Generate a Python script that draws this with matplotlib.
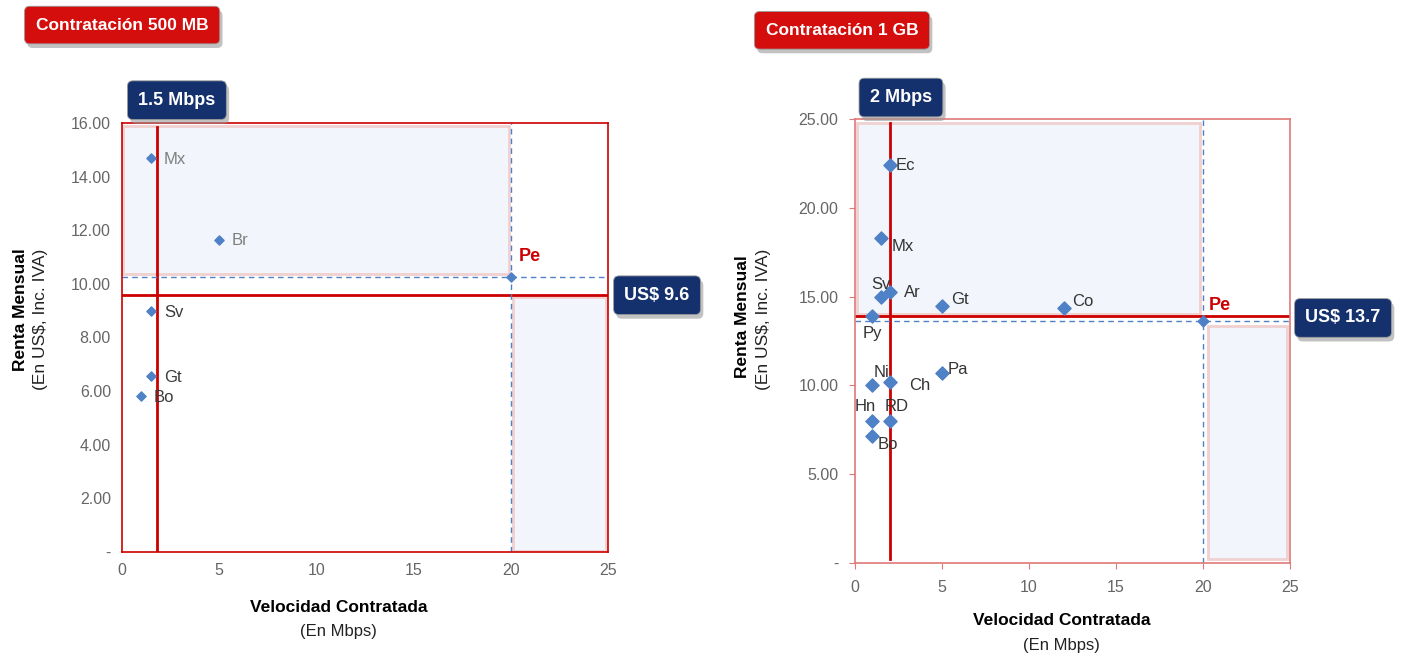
import numpy as np
import matplotlib.pyplot as plt
import matplotlib.patheffects as pe
from matplotlib.patches import Rectangle
from matplotlib.ticker import FuncFormatter

plt.rcParams['font.family'] = ['Liberation Sans', 'DejaVu Sans']

# --- data: plan 500 MB ---
paises_500 = ['Mx', 'Br', 'Sv', 'Gt', 'Bo']
vel_500 = [1.5, 5, 1.5, 1.5, 1]
renta_500 = [14.7, 11.65, 9.0, 6.55, 5.8]
pe_500 = (20, 10.26)
ref_vel_500 = 1.8
ref_renta_500 = 9.6

# --- data: plan 1 GB ---
paises_1gb = ['Ec', 'Mx', 'Sv', 'Ar', 'Gt', 'Co', 'Py', 'Pa', 'Ni', 'Ch', 'Hn', 'RD', 'Bo']
vel_1gb = [2, 1.5, 1.5, 2, 5, 12, 1, 5, 1, 2, 1, 2, 1]
renta_1gb = [22.4, 18.3, 15.0, 15.25, 14.45, 14.35, 13.9, 10.7, 10.0, 10.2, 8.0, 8.0, 7.15]
pe_1gb = (20, 13.63)
ref_vel_1gb = 2.0
ref_renta_1gb = 13.9

NAVY = '#14316e'
RED = '#cc0000'
BLUE = '#4f81c7'
SHADE = '#f2f5fb'

fig = plt.figure(figsize=(14.04, 6.59), dpi=100)
ax1 = fig.add_axes([0.0869, 0.1624, 0.3462, 0.651])
ax2 = fig.add_axes([0.609, 0.1457, 0.3098, 0.6737])


def fmt_y(v, pos):
    return '-' if abs(v) < 1e-9 else f'{v:.2f}'


def base_axes(ax, ymax, ystep, frame_col, ticks_out):
    ax.set_xlim(0, 25)
    ax.set_ylim(0, ymax)
    ax.set_xticks(np.arange(0, 26, 5))
    ax.set_yticks(np.arange(0, ymax + 0.01, ystep))
    ax.yaxis.set_major_formatter(FuncFormatter(fmt_y))
    for s in ax.spines.values():
        s.set_color(frame_col)
        s.set_linewidth(1.2)
    ax.tick_params(colors='#666666', labelsize=11.5, length=4 if ticks_out else 0,
                   color=frame_col, pad=8)


def shaded(ax, x0, y0, x1, y1):
    ax.add_patch(Rectangle((x0, y0), x1 - x0, y1 - y0, facecolor=SHADE,
                           edgecolor='#f0d0d0', linewidth=2, zorder=0))


# ---------------- left chart ----------------
base_axes(ax1, 16, 2, RED, False)
shaded(ax1, 0.05, pe_500[1] + 0.1, 19.9, 15.9)
shaded(ax1, 20.1, 0.05, 24.9, ref_renta_500 - 0.1)
ax1.axvline(ref_vel_500, ymax=0.99, color=RED, lw=2, zorder=2)
ax1.axhline(ref_renta_500, color=RED, lw=2, zorder=2)
ax1.axhline(pe_500[1], color=BLUE, lw=1, ls=(0, (4, 3)), zorder=2)
ax1.axvline(pe_500[0], color=BLUE, lw=1, ls=(0, (4, 3)), zorder=2)
ax1.scatter(vel_500, renta_500, marker='D', s=22, color=BLUE, zorder=4)
ax1.scatter([pe_500[0]], [pe_500[1]], marker='D', s=22, color=BLUE, zorder=4)
for p, x, y in zip(paises_500, vel_500, renta_500):
    col = '#7f7f7f' if y > ref_renta_500 + 1 else '#3a3a3a'
    ax1.text(x + 0.65, y - 0.05, p, color=col, fontsize=12, va='center', ha='left', zorder=5)
ax1.text(pe_500[0] + 0.4, pe_500[1] + 0.45, 'Pe', color=RED, fontsize=13,
         fontweight='bold', va='bottom', ha='left')

# ---------------- right chart ----------------
base_axes(ax2, 25, 5, '#e07878', True)
shaded(ax2, 0.1, ref_renta_1gb + 0.1, 19.8, 24.8)
shaded(ax2, 20.3, 0.2, 24.8, pe_1gb[1] - 0.3)
ax2.axvline(ref_vel_1gb, ymin=0.01, ymax=0.99, color=RED, lw=2, zorder=2)
ax2.axhline(ref_renta_1gb, color=RED, lw=2, zorder=2)
ax2.axhline(pe_1gb[1], color=BLUE, lw=1, ls=(0, (4, 3)), zorder=2)
ax2.axvline(pe_1gb[0], color=BLUE, lw=1, ls=(0, (4, 3)), zorder=2)
ax2.scatter(vel_1gb, renta_1gb, marker='D', s=45, color=BLUE, zorder=4)
ax2.scatter([pe_1gb[0]], [pe_1gb[1]], marker='D', s=30, color=BLUE, zorder=4)
offs = {'Ec': (0.35, 0, 'left', 'center'), 'Mx': (0.6, -0.5, 'left', 'center'),
        'Sv': (0.0, 0.7, 'center', 'center'), 'Ar': (0.8, 0, 'left', 'center'),
        'Gt': (0.5, 0.4, 'left', 'center'), 'Co': (0.5, 0.4, 'left', 'center'),
        'Py': (0.0, -1.0, 'center', 'center'), 'Pa': (0.3, 0.2, 'left', 'center'),
        'Ni': (0.05, 0.7, 'left', 'center'), 'Ch': (1.1, -0.2, 'left', 'center'),
        'Hn': (-0.4, 0.8, 'center', 'center'), 'RD': (-0.3, 0.8, 'left', 'center'),
        'Bo': (0.3, -0.5, 'left', 'center')}
for p, x, y in zip(paises_1gb, vel_1gb, renta_1gb):
    dx, dy, ha, va = offs[p]
    ax2.text(x + dx, y + dy, p, color='#333333', fontsize=12, ha=ha, va=va, zorder=5)
ax2.text(pe_1gb[0] + 0.35, pe_1gb[1] + 0.4, 'Pe', color=RED, fontsize=13,
         fontweight='bold', va='bottom', ha='left')

# ---------------- axis titles ----------------
for ax, xc in ((ax1, 0.445), (ax2, 0.475)):
    ax.text(xc, -0.13, 'Velocidad Contratada', transform=ax.transAxes, ha='center',
            va='center', fontsize=12.5, fontweight='bold')
    ax.text(xc, -0.185, '(En Mbps)', transform=ax.transAxes, ha='center',
            va='center', fontsize=12, color='#222222')
fig.text(0.0145, 0.53, 'Renta Mensual', rotation=90, ha='center', va='center',
         fontsize=12.5, fontweight='bold')
fig.text(0.029, 0.515, '(En US$, Inc. IVA)', rotation=90, ha='center', va='center',
         fontsize=12.5, color='#222222')
fig.text(0.5285, 0.52, 'Renta Mensual', rotation=90, ha='center', va='center',
         fontsize=12.5, fontweight='bold')
fig.text(0.5435, 0.515, '(En US$, Inc. IVA)', rotation=90, ha='center', va='center',
         fontsize=12.5, color='#222222')


# ---------------- callout boxes ----------------
def box(x, y, s, fc, size=12.5, pad=0.6):
    t = fig.text(x, y, s, ha='center', va='center', color='white', fontsize=size,
                 fontweight='bold', zorder=10,
                 bbox=dict(boxstyle='round,pad=%s,rounding_size=0.3' % pad, fc=fc,
                           ec='#9a9a9a', lw=0.6))
    t.get_bbox_patch().set_path_effects(
        [pe.SimplePatchShadow(offset=(2, -3), shadow_rgbFace='#9a9a9a', alpha=0.6),
         pe.Normal()])


box(0.087, 0.962, 'Contratación 500 MB', '#d40d0d', 12.5, 0.65)
box(0.5997, 0.954, 'Contratación 1 GB', '#d40d0d', 12.5, 0.65)
box(0.126, 0.848, '1.5 Mbps', NAVY, 13)
box(0.6417, 0.852, '2 Mbps', NAVY, 13)
box(0.468, 0.552, 'US$ 9.6', NAVY, 13)
box(0.9566, 0.5175, 'US$ 13.7', NAVY, 13)

fig.savefig('out.png', dpi=100)
